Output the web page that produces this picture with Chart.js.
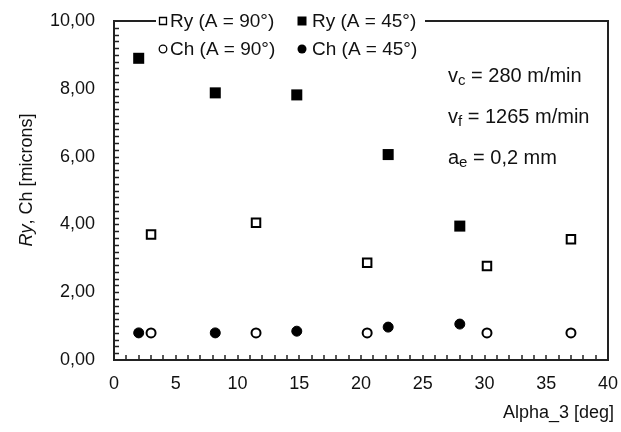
<!DOCTYPE html>
<html>
<head>
<meta charset="utf-8">
<script src="https://cdn.jsdelivr.net/npm/chart.js@4"></script>
<style>
  html, body { margin: 0; padding: 0; background: #fff; }
  #wrap { width: 621px; height: 432px; position: relative; }
</style>
</head>
<body>
<div id="wrap"><canvas id="c" width="621" height="432"></canvas></div>
<script>
// ---- data ----
const xA90 = [3.0, 11.5, 20.5, 30.2, 37.0];
const xA45 = [2.0, 8.2, 14.8, 22.2, 28.0];
const ryA90 = [3.70, 4.05, 2.87, 2.77, 3.56];
const ryA45 = [8.90, 7.88, 7.82, 6.06, 3.95];
const chA90 = [0.80, 0.80, 0.80, 0.80, 0.80];
const chA45 = [0.80, 0.80, 0.85, 0.97, 1.06];
const seriesLabels = ['Ry (A = 90°)', 'Ry (A = 45°)', 'Ch (A = 90°)', 'Ch (A = 45°)'];
const xTitle = 'Alpha_3 [deg]';
const yTitleItalic = 'Ry';
const yTitleRest = ', Ch [microns]';
const notes = [
  ['v', 'c', ' = 280 m/min'],
  ['v', 'f', ' = 1265 m/min'],
  ['a', 'e', ' = 0,2 mm']
];

const FONT = '"Liberation Sans", Arial, sans-serif';
const pts = (xs, ys) => xs.map((x, i) => ({x: x, y: ys[i]}));

const datasets = [
  {label: seriesLabels[0], data: pts(xA90, ryA90), pointStyle: 'rect', pointRadius: 6,
   backgroundColor: '#fff', borderColor: '#000', borderWidth: 2},
  {label: seriesLabels[1], data: pts(xA45, ryA45), pointStyle: 'rect', pointRadius: 7.8,
   backgroundColor: '#000', borderColor: '#000', borderWidth: 0},
  {label: seriesLabels[2], data: pts(xA90, chA90), pointStyle: 'circle', pointRadius: 4.5,
   backgroundColor: '#fff', borderColor: '#000', borderWidth: 2},
  {label: seriesLabels[3], data: pts(xA45, chA45), pointStyle: 'circle', pointRadius: 5,
   backgroundColor: '#000', borderColor: '#000', borderWidth: 1}
];

const decor = {
  id: 'decor',
  afterDraw(chart) {
    const ctx = chart.ctx;
    const a = chart.chartArea;
    const xs = chart.scales.x, ys = chart.scales.y;
    ctx.save();
    // frame
    ctx.strokeStyle = '#222';
    ctx.lineWidth = 2;
    ctx.strokeRect(a.left, a.top, a.right - a.left, a.bottom - a.top);
    // minor ticks
    ctx.beginPath();
    for (let v = 1; v < 40; v++) {
      const px = Math.round(xs.getPixelForValue(v));
      ctx.moveTo(px, a.bottom);
      ctx.lineTo(px, a.bottom - 5);
    }
    for (let k = 1; k < 50; k++) {
      const py = Math.round(ys.getPixelForValue(k * 0.2)) + 0.5;
      ctx.moveTo(a.left, py);
      ctx.lineTo(a.left + 5, py);
    }
    ctx.lineWidth = 1.5;
    ctx.stroke();

    // legend: white gap in top border
    ctx.fillStyle = '#fff';
    ctx.fillRect(156, a.top - 4, 425 - 156, 8);
    ctx.font = '19px ' + FONT;
    ctx.fillStyle = '#111';
    ctx.textBaseline = 'middle';
    ctx.textAlign = 'left';
    const cols = [{m: 163, t: 170}, {m: 302, t: 312}];
    const rows = [a.top, 49];
    chart.data.datasets.forEach((ds, i) => {
      const r = Math.floor(i / 2), c = i % 2;
      const mx = cols[c].m, my = rows[r];
      const filled = ds.backgroundColor === '#000';
      ctx.beginPath();
      if (ds.pointStyle === 'rect') {
        if (filled) { ctx.rect(mx - 4.5, my - 4.5, 9, 9); }
        else { ctx.rect(mx - 3.5, my - 3.5, 7, 7); }
      } else {
        ctx.arc(mx, my, filled ? 4.5 : 3.8, 0, Math.PI * 2);
      }
      if (filled) { ctx.fillStyle = '#000'; ctx.fill(); }
      else { ctx.strokeStyle = '#000'; ctx.lineWidth = 1.3; ctx.stroke(); }
      ctx.fillStyle = '#111';
      ctx.fillText(ds.label, cols[c].t, my + 1);
    });

    // annotations
    const nx = 448, ny = [76, 117, 158];
    notes.forEach((n, i) => {
      let x = nx;
      ctx.font = '20px ' + FONT;
      ctx.fillText(n[0], x, ny[i]);
      x += ctx.measureText(n[0]).width;
      ctx.font = '15px ' + FONT;
      ctx.fillText(n[1], x, ny[i] + 5);
      x += ctx.measureText(n[1]).width;
      ctx.font = '20px ' + FONT;
      ctx.fillText(n[2], x, ny[i]);
    });

    // x title
    ctx.font = '18px ' + FONT;
    ctx.textAlign = 'right';
    ctx.fillText(xTitle, 614, 413);

    // y title (rotated)
    ctx.translate(27, 180);
    ctx.rotate(-Math.PI / 2);
    ctx.textAlign = 'left';
    ctx.font = 'italic 18px ' + FONT;
    const w1 = ctx.measureText(yTitleItalic).width;
    ctx.font = '18px ' + FONT;
    const w2 = ctx.measureText(yTitleRest).width;
    const start = -(w1 + w2) / 2;
    ctx.font = 'italic 18px ' + FONT;
    ctx.fillText(yTitleItalic, start, 0);
    ctx.font = '18px ' + FONT;
    ctx.fillText(yTitleRest, start + w1, 0);
    ctx.restore();
  }
};

new Chart(document.getElementById('c'), {
  type: 'scatter',
  data: {datasets: datasets},
  options: {
    responsive: false,
    animation: false,
    events: [],
    layout: {padding: {top: 21, right: 13, left: 0, bottom: 0}},
    plugins: {legend: {display: false}, tooltip: {enabled: false}},
    scales: {
      x: {
        type: 'linear', min: 0, max: 40,
        grid: {display: false, drawTicks: false},
        border: {display: false},
        ticks: {stepSize: 5, padding: 13, color: '#111', font: {family: FONT, size: 18}},
        afterFit(s) { s.height = 72; s.paddingLeft = 0; s.paddingRight = 0; }
      },
      y: {
        type: 'linear', min: 0, max: 10,
        grid: {display: false, drawTicks: false},
        border: {display: false},
        ticks: {stepSize: 2, padding: 19, color: '#111', font: {family: FONT, size: 18},
          callback: v => v.toFixed(2).replace('.', ',')},
        afterFit(s) { s.width = 114; s.paddingTop = 0; s.paddingBottom = 0; }
      }
    }
  },
  plugins: [decor]
});
</script>
</body>
</html>
